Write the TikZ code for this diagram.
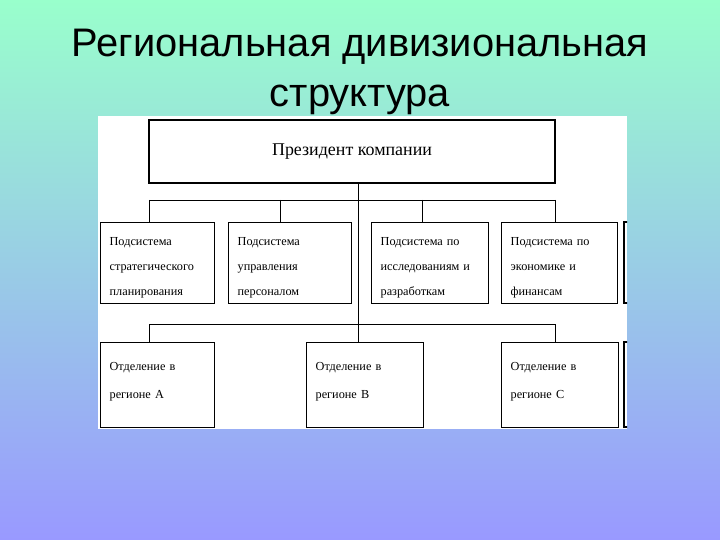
\documentclass[tikz,border=0pt]{standalone}
\usepackage{fontspec}
\setmainfont{Liberation Serif}
\newfontfamily\titlefont{Liberation Sans}
\definecolor{slidetop}{HTML}{99FFCC}
\definecolor{slidebottom}{HTML}{9999FF}

\begin{document}
\begin{tikzpicture}[x=1bp,y=-1bp,
    box/.style={draw, line width=1.3bp, fill=white},
    unit/.style={box, anchor=north west, text width=#1, inner xsep=9bp,
        align=left, font=\fontsize{12.3}{25}\selectfont},
    subsys/.style={unit=#1, minimum height=81bp, text height=17bp},
    branch/.style={unit=#1, minimum height=85bp, text height=9bp,
        text depth=38bp, font=\fontsize{12.3}{28}\selectfont},
    link/.style={line width=0.9bp}]

% Slide background
\shade[top color=slidetop, bottom color=slidebottom]
    (0,0) rectangle (720,540);
\useasboundingbox (0,0) rectangle (720,540);

% Title
\node[font=\titlefont\fontsize{40}{51}\selectfont, align=center]
    (title) at (360,72) {Региональная дивизиональная\\структура};

% White panel of the chart
\fill[white] (98,116) rectangle (627,429);

% Top level
\node[box, minimum width=406bp, minimum height=63bp,
    font=\fontsize{18}{20}\selectfont] (pres) at (352,151.5)
    {Президент компании};

% Subsystems
\node[subsys=96bp] (s1) at (100,222)
    {Подсистема\\стратегического\\планирования};
\node[subsys=105bp] (s2) at (228,222)
    {Подсистема\\управления\\персоналом};
\node[subsys=99bp] (s3) at (371,222)
    {Подсистема по\\исследованиям и\\разработкам};
\node[subsys=98bp] (s4) at (501,222)
    {Подсистема по\\экономике и\\финансам};

% Regional divisions
\node[branch=96bp] (regA) at (100,342)
    {Отделение в\\регионе А};
\node[branch=99bp] (regB) at (306,342)
    {Отделение в\\регионе В};
\node[branch=99bp] (regC) at (501,342)
    {Отделение в\\регионе С};

% Boxes cut off by the panel edge
\begin{scope}
    \clip (98,116) rectangle (627,429);
    \draw[line width=1.3bp] (624,222) rectangle (700,303);
    \draw[line width=1.3bp] (624,342) rectangle (700,427);
\end{scope}

% Connectors
\coordinate (trunk) at (358,200);
\draw[link] (pres.south -| trunk) -- (trunk |- regB.north);

\foreach \n/\x in {1/149,2/280,3/422,4/555} {
    \coordinate (d\n) at (\x,200);
    \draw[link] (d\n) -- (d\n |- s\n.north);
}
\draw[link] (d1) -- (d4);

\coordinate (eA) at (149,324);
\coordinate (eC) at (555,324);
\draw[link] (eA) -- (eA |- regA.north);
\draw[link] (eC) -- (eC |- regC.north);
\draw[link] (eA) -- (eC);

\end{tikzpicture}
\end{document}
